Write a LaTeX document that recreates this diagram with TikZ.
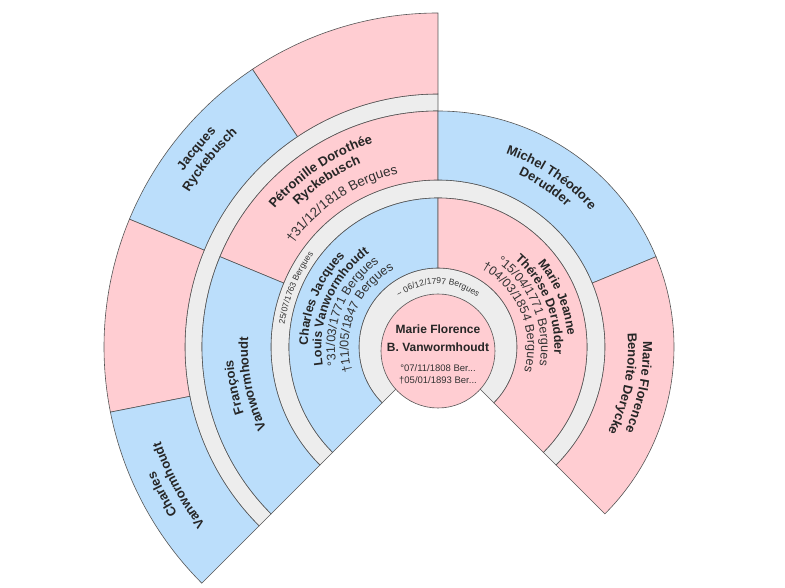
\documentclass[tikz,border=0pt]{standalone}
\usepackage{fontspec}
\setmainfont{Liberation Sans}
\usepackage{xcolor}
\usepackage{tikz}
\usetikzlibrary{decorations.text}
\definecolor{boyblue}{HTML}{BBDEFB}
\definecolor{girlpink}{HTML}{FFCDD2}
\definecolor{ringgrey}{HTML}{EDEDED}
\definecolor{edgegrey}{HTML}{555555}
\definecolor{inkgrey}{HTML}{333333}
\tikzstyle{segment} = [draw=edgegrey, line width=0.6pt]
\tikzstyle{male} = [segment, fill=boyblue]
\tikzstyle{female} = [segment, fill=girlpink]
\tikzstyle{spacer} = [segment, fill=ringgrey]
\tikzstyle{caption} = [text=black!85, font=\bfseries\fontsize{12}{14}\selectfont, inner sep=0pt]
\tikzstyle{smalldate} = [text=inkgrey, font=\fontsize{9.5}{11}\selectfont, inner sep=0pt]

\newcommand{\namef}{\bfseries\fontsize{12.5}{14}\selectfont\color{black!85}}
\newcommand{\bignamef}{\bfseries\fontsize{13}{15}\selectfont\color{black!85}}
\newcommand{\datef}{\fontsize{12.5}{14}\selectfont\color{inkgrey}}
\newcommand{\bigdatef}{\fontsize{13.5}{15}\selectfont\color{inkgrey}}
\newcommand{\wedf}{\fontsize{8.5}{10}\selectfont\color{inkgrey}}
% ring piece: style, from angle, to angle, inner r, outer r
\newcommand{\ringpiece}[5]{\path[#1] (#2:#4pt) arc[start angle=#2, end angle=#3, radius=#4pt] -- (#3:#5pt) arc[start angle=#3, end angle=#2, radius=#5pt] -- cycle;}
% curved text line: font, middle angle, radius, text
\newcommand{\arcline}[4]{\path[decorate, decoration={text along path, text align=center, text={|#1|#4}}] ({#2+70}:#3pt) arc[start angle={#2+70}, end angle={#2-70}, radius=#3pt];}

\begin{document}
\begin{tikzpicture}
\useasboundingbox (-438pt,-241pt) rectangle (347pt,347pt);
% grey bands
\path[spacer] (0,0) -- (-45:79pt) arc[start angle=-45, end angle=225, radius=79pt] -- cycle;
\ringpiece{spacer}{-45}{225}{149}{167}
\ringpiece{spacer}{90}{225}{236}{253}
% parents
\ringpiece{male}{90}{225}{79}{149}
\ringpiece{female}{-45}{90}{79}{149}
% grandparents
\ringpiece{female}{90}{157.5}{167}{236}
\ringpiece{male}{157.5}{225}{167}{236}
\ringpiece{male}{22.5}{90}{167}{236}
\ringpiece{female}{-45}{22.5}{167}{236}
% great-grandparents
\ringpiece{female}{90}{123.75}{253}{334}
\ringpiece{male}{123.75}{157.5}{253}{334}
\ringpiece{female}{157.5}{191.25}{253}{334}
\ringpiece{male}{191.25}{225}{253}{334}
% root person
\draw[female] (0,-4pt) circle[radius=57pt];
\node[caption] (rootfirst) at (0,18pt) {Marie Florence};
\node[caption] (rootlast) at (0,0) {B. Vanwormhoudt};
\node[smalldate] (rootbirth) at (0,-21pt) {°07/11/1808 Ber...};
\node[smalldate] (rootdeath) at (0,-33pt) {†05/01/1893 Ber...};
\arcline{\wedf}{90}{63}{{\textasciitilde} 06/12/1797 Bergues}
% father
\arcline{\namef}{157.5}{130}{Charles Jacques}
\arcline{\namef}{157.5}{116.5}{Louis Vanwormhoudt}
\arcline{\datef}{157.5}{103}{°31/03/1771 Bergues}
\arcline{\datef}{157.5}{89.5}{†11/05/1847 Bergues}
\arcline{\wedf}{157.5}{155}{25/07/1763 Bergues}
% mother
\arcline{\namef}{22.5}{130}{Marie Jeanne}
\arcline{\namef}{22.5}{116.5}{Thérèse Derudder}
\arcline{\datef}{22.5}{103}{°15/04/1771 Bergues}
\arcline{\datef}{22.5}{89.5}{†04/03/1854 Bergues}
% grandparents
\arcline{\bignamef}{123.75}{214}{Pétronille Dorothée}
\arcline{\bignamef}{123.75}{199}{Ryckebusch}
\arcline{\bigdatef}{123.75}{178}{†31/12/1818 Bergues}
\arcline{\bignamef}{191.25}{205}{François}
\arcline{\bignamef}{191.25}{190}{Vanwormhoudt}
\arcline{\bignamef}{56.25}{205}{Michel Théodore}
\arcline{\bignamef}{56.25}{190}{Derudder}
\arcline{\bignamef}{-11.25}{205}{Marie Florence}
\arcline{\bignamef}{-11.25}{190}{Benoite Derycke}
% great-grandparents
\arcline{\bignamef}{140.625}{309}{Jacques}
\arcline{\bignamef}{140.625}{293}{Ryckebusch}
\arcline{\bignamef}{208.125}{309}{Charles}
\arcline{\bignamef}{208.125}{293}{Vanwormhoudt}
\end{tikzpicture}
\end{document}
